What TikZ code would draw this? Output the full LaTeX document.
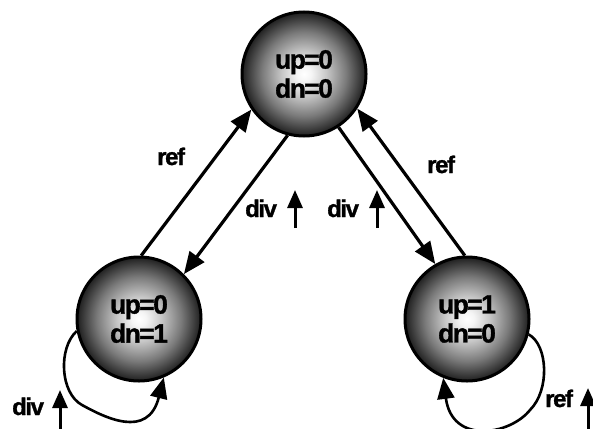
\documentclass[tikz,border=0pt]{standalone}
\usepackage{fontspec}
\setmainfont{Liberation Sans}
\usetikzlibrary{arrows.meta}

% grey ball: light centre fading to a dark rim
\pgfdeclareradialshading{ball}{\pgfpoint{0bp}{0bp}}{%
  color(0bp)=(white); color(3bp)=(white!96!black);
  color(9bp)=(black!22); color(17bp)=(black!52);
  color(25bp)=(black!88); color(50bp)=(black!88)}

\newfontfamily\tightbold[LetterSpace=-6,FakeBold=1.2]{Liberation Sans Bold}

\tikzset{
  state/.style={circle, draw=black, line width=3pt, shade, shading=ball,
    minimum size=124pt, inner sep=0pt, align=center,
    font=\fontsize{26.5}{29}\tightbold},
  trans/.style={line width=3.2pt, -{Triangle[length=22pt,width=18pt]}},
  selfloop/.style={line width=2.6pt, -{Triangle[length=21pt,width=17pt]}},
  tick/.style={line width=3pt, -{Triangle[length=18pt,width=15pt]}},
  lbl/.style={anchor=base west, inner sep=0pt,
    font=\fontsize{24}{26}\tightbold}
}

\begin{document}
\begin{tikzpicture}[x=1pt,y=-1pt]
\useasboundingbox (0,0) rectangle (593,428);

% states
\node[state] (T) at (304,74) {up=0\\dn=0};
\node[state] (L) at (139,319) {up=0\\dn=1};
\node[state] (R) at (467,319) {up=1\\dn=0};

% transitions between states
\draw[trans] (L.88)  -- (T.214);
\draw[trans] (T.255) -- (L.45);
\draw[trans] (T.303) -- (R.120);
\draw[trans] (R.92)  -- (T.327);

% self loops
\draw[selfloop] (L.191) .. controls (58,348) and (60,393) .. (82,405)
  .. controls (104,417) and (148,440) .. (L.293);
\draw[selfloop] (R.346) .. controls (548,345) and (550,390) .. (530,410)
  .. controls (510,435) and (452,445) .. (R.248);

% edge labels
\node[lbl] (refL) at (157,165) {ref};
\node[lbl] (refR) at (427,173) {ref};
\node[lbl] (divL) at (245,217) {div};
\node[lbl] (divR) at (327,217) {div};
\node[lbl] (divB) at (12,415) {div};
\node[lbl] (refB) at (545,407) {ref};

% rising-edge marks
\coordinate (aL0) at (295,228); \coordinate (aL1) at (295,190);
\coordinate (aR0) at (377,228); \coordinate (aR1) at (377,190);
\coordinate (aB0) at (60,429);  \coordinate (aB1) at (60,390);
\coordinate (aC0) at (588,429); \coordinate (aC1) at (588,388);
\draw[tick] (aL0) -- (aL1);
\draw[tick] (aR0) -- (aR1);
\draw[tick] (aB0) -- (aB1);
\draw[tick] (aC0) -- (aC1);
\end{tikzpicture}
\end{document}
